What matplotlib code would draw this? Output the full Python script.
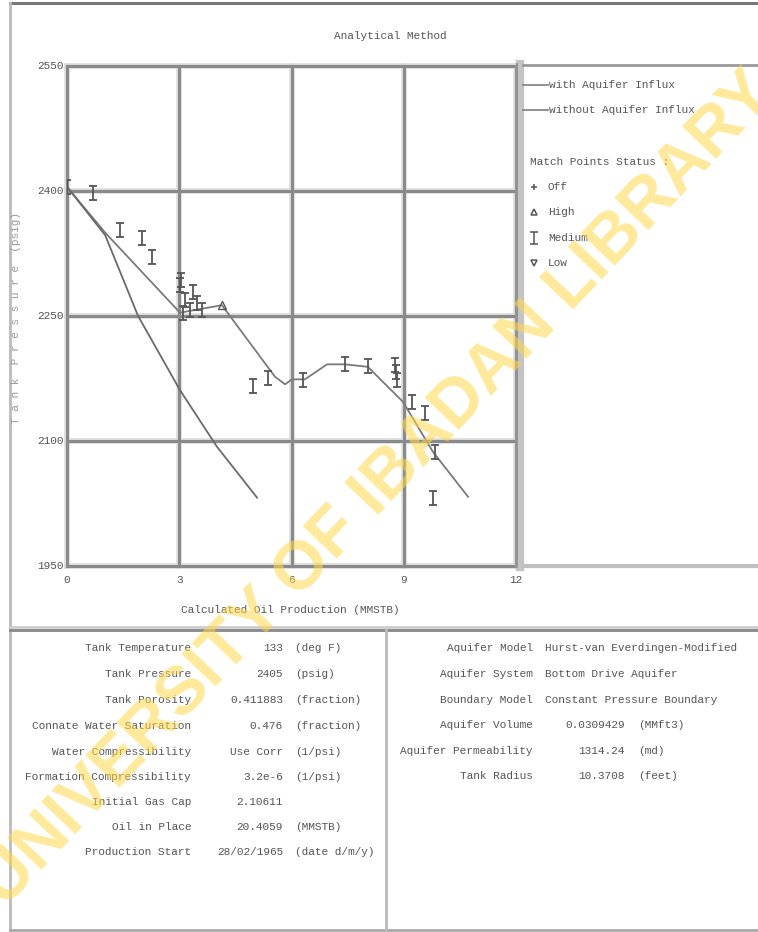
import matplotlib
matplotlib.use("Agg")
import matplotlib.pyplot as plt
from matplotlib.lines import Line2D
from matplotlib.path import Path

# Datos del grafico
prod_with = [0.0, 1.02, 3.02, 4.14, 5.56, 5.83, 6.01, 6.36, 6.95, 7.43, 8.04, 8.98, 9.78, 10.72]
pres_with = [2405, 2350, 2254, 2263, 2177, 2168, 2174, 2174, 2192, 2192, 2189, 2147, 2087, 2033]

prod_without = [0.0, 1.02, 1.9, 3.02, 4.01, 5.08]
pres_without = [2405, 2347, 2250, 2161, 2093, 2032]

# Puntos de ajuste "Medium"
med_x = [0.0, 0.69, 1.42, 2.0, 2.27, 3.05, 3.02, 3.15, 3.37, 3.47, 3.61, 3.29, 3.1,
         4.97, 5.37, 6.31, 7.43, 8.04, 8.77, 8.79, 8.82, 9.22, 9.57, 9.83, 9.78]
med_y = [2405, 2398, 2353, 2344, 2321, 2293, 2287, 2269, 2279, 2266, 2257, 2257, 2254,
         2166, 2176, 2173, 2192, 2190, 2191, 2183, 2173, 2147, 2134, 2087, 2032]
high_x = [4.14]
high_y = [2263]

x_ticks = [0, 3, 6, 9, 12]
y_ticks = [1950, 2100, 2250, 2400, 2550]

left_labels = ["Tank Temperature", "Tank Pressure", "Tank Porosity", "Connate Water Saturation",
               "Water Compressibility", "Formation Compressibility", "Initial Gas Cap",
               "Oil in Place", "Production Start"]
left_values = ["133", "2405", "0.411883", "0.476", "Use Corr", "3.2e-6", "2.10611",
               "20.4059", "28/02/1965"]
left_units = ["(deg F)", "(psig)", "(fraction)", "(fraction)", "(1/psi)", "(1/psi)", "",
              "(MMSTB)", "(date d/m/y)"]

right_labels = ["Aquifer Model", "Aquifer System", "Boundary Model", "Aquifer Volume",
                "Aquifer Permeability", "Tank Radius"]
right_values = ["Hurst-van Everdingen-Modified", "Bottom Drive Aquifer",
                "Constant Pressure Boundary", "0.0309429", "1314.24", "10.3708"]
right_units = ["", "", "", "(MMft3)", "(md)", "(feet)"]

W, H = 758, 932
FONT = "Liberation Mono"
TXT = "#555555"
GRIS = "#8a8a8a"


def fx(x):
    return x / W


def fy(y):
    return 1 - y / H


def texto(x, y, s, ha="left", **kw):
    figura.text(fx(x), fy(y), s, ha=ha, va="center", family=FONT, fontsize=8,
                color=TXT, **kw)


def linea(x0, y0, x1, y1, color, lw):
    figura.add_artist(Line2D([fx(x0), fx(x1)], [fy(y0), fy(y1)], color=color, lw=lw,
                             transform=figura.transFigure))


# Marcador en forma de I
ibeam = Path([(-0.3, 0.5), (0.3, 0.5), (0, 0.5), (0, -0.5), (-0.3, -0.5), (0.3, -0.5)],
             [Path.MOVETO, Path.LINETO, Path.MOVETO, Path.LINETO, Path.MOVETO, Path.LINETO])

figura = plt.figure(figsize=(W / 100, H / 100), dpi=100)
ejes = figura.add_axes([fx(67), fy(566), (516 - 67) / W, (566 - 66) / H])

ejes.set_xlim(0, 12)
ejes.set_ylim(1950, 2550)
for s in ejes.spines.values():
    s.set_visible(False)
ejes.set_xticks([])
ejes.set_yticks([])

# Rejilla gruesa
for xv in x_ticks:
    ejes.axvline(xv, color="#dcdcdc", lw=4, zorder=1, clip_on=False)
    ejes.axvline(xv, color=GRIS, lw=2.2, zorder=1.1, clip_on=False)
for yv in y_ticks:
    ejes.axhline(yv, color="#dcdcdc", lw=4, zorder=1, clip_on=False)
    ejes.axhline(yv, color=GRIS, lw=2.2, zorder=1.1, clip_on=False)

# Curvas
ejes.plot(prod_with, pres_with, color="#7a7a7a", lw=1.3, zorder=3)
ejes.plot(prod_without, pres_without, color="#6a6a6a", lw=1.3, zorder=3)
ejes.plot(med_x, med_y, ls="none", marker=ibeam, ms=10, mec="#555555", mfc="none",
          mew=1.3, zorder=4)
ejes.plot(high_x, high_y, ls="none", marker="^", ms=6, mec="#555555", mfc="none",
          mew=1.0, zorder=4)

# Etiquetas de ejes
for xv in x_ticks:
    xp = 67 + xv / 12 * 449
    texto(xp, 580, str(xv), ha="center")
for yv in y_ticks:
    yp = 566 - (yv - 1950) / 600 * 500
    texto(64, yp, str(yv), ha="right")

texto(390, 36, "Analytical Method", ha="center")
texto(290, 610, "Calculated Oil Production (MMSTB)", ha="center")
figura.text(fx(16), fy(318), "T a n k  P r e s s u r e  (psig)", rotation=90, ha="center",
            va="center", family=FONT, fontsize=8, color="#9a9a9a")

# Marcos
linea(10, 3, 758, 3, "#777777", 2.2)
linea(10, 3, 10, 930, "#bbbbbb", 2)
linea(10, 627, 758, 627, "#cccccc", 2)
linea(10, 630, 758, 630, "#888888", 2)
linea(10, 930, 758, 930, "#aaaaaa", 2)
linea(386, 630, 386, 930, "#bbbbbb", 2)

# Panel de leyenda
linea(520, 64, 520, 567, "#c4c4c4", 6)
linea(517, 64, 517, 567, "#8a8a8a", 1.2)
linea(523, 65, 758, 65, "#999999", 2)
linea(523, 566, 758, 566, "#c0c0c0", 3)

linea(523, 85, 548, 85, "#888888", 1.3)
texto(549, 85, "with Aquifer Influx")
linea(523, 110, 548, 110, "#888888", 1.3)
texto(549, 110, "without Aquifer Influx")
texto(530, 162, "Match Points Status :")
simbolos = ["+", "^", ibeam, "v"]
nombres = ["Off", "High", "Medium", "Low"]
for i, (m, n) in enumerate(zip(simbolos, nombres)):
    yy = 187 + i * 25.3
    figura.add_artist(Line2D([fx(534)], [fy(yy)], ls="none", marker=m,
                             ms=9 if m is ibeam else 5, mec="#555555", mfc="none",
                             mew=1.1, transform=figura.transFigure))
    texto(548, yy, n)

# Tabla de parametros
filas_izq = [648, 674, 700, 726, 752, 777, 802, 827, 852]
for yy, a, b, c in zip(filas_izq, left_labels, left_values, left_units):
    texto(191, yy, a, ha="right")
    texto(283, yy, b, ha="right")
    texto(295, yy, c)

filas_der = [648, 674, 700, 725, 751, 776]
for i, (yy, a, b, c) in enumerate(zip(filas_der, right_labels, right_values, right_units)):
    texto(533, yy, a, ha="right")
    if i < 3:
        texto(545, yy, b)
    else:
        texto(625, yy, b, ha="right")
        texto(638, yy, c)

# Marca de agua
figura.text(fx(378), fy(490), "UNIVERSITY OF IBADAN LIBRARY", rotation=46.5,
            ha="center", va="center", family="Liberation Sans", fontweight="bold",
            fontsize=49, color="#FFD84A", alpha=0.55, rotation_mode="anchor")

figura.savefig("out.png", dpi=100)
